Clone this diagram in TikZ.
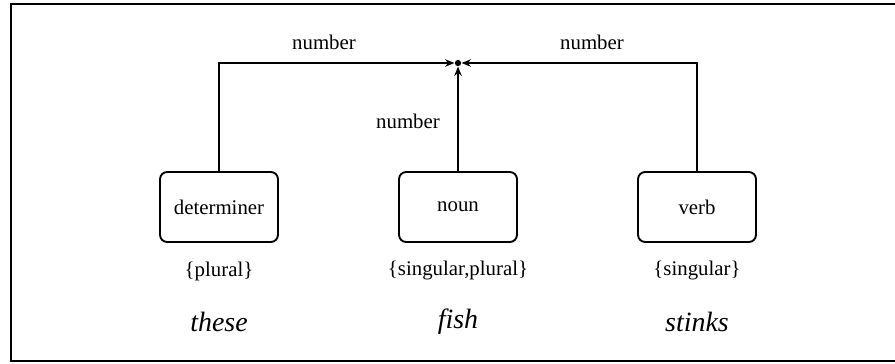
\documentclass[tikz,border=0pt]{standalone}
\usepackage{fontspec}
\setmainfont{Liberation Serif}
\usepackage{tikz}
\usetikzlibrary{positioning}
\usetikzlibrary{arrows.meta}

\begin{document}
\begin{tikzpicture}[x=0.48pt, y=-0.48pt,
    catbox/.style={draw, line width=0.9pt, rounded corners=3.4pt,
      minimum width=56.6pt, minimum height=33.6pt, font=\fontsize{10}{12}\selectfont},
    featlabel/.style={font=\fontsize{10}{12}\selectfont},
    wordlabel/.style={font=\fontsize{13.4}{16}\selectfont\itshape},
    agrdot/.style={circle, fill, inner sep=0pt, minimum size=3pt},
    arr/.style={line width=0.9pt, -{Stealth[length=4.5pt, width=3.6pt]}}]
  \useasboundingbox (0,0) rectangle (895,363);
  % frame
  \draw[line width=0.9pt] (11,4) rectangle (897,361);

  % categories, features and words
  \foreach \name/\x/\cat/\feat/\word in {det/219/determiner/{\{plural\}}/these,
      noun/458/noun/{\{singular,plural\}}/fish, verb/697/verb/{\{singular\}}/stinks} {
    \node[catbox] (\name) at (\x,207) {\cat};
    \node[featlabel] (\name-feat) at (\x,271) {\feat};
    \node[wordlabel] (\name-word) at (\x,322) {\word};
  }

  % agreement
  \node[agrdot] (agr) at (458,63) {};
  \draw[arr] (det.north) |- (agr);
  \draw[arr] (noun.north) -- (agr);
  \draw[arr] (verb.north) |- (agr);
  \node[featlabel] (num-det) at (324,42) {number};
  \node[featlabel] (num-noun) at (408,121) {number};
  \node[featlabel] (num-verb) at (592,42) {number};
\end{tikzpicture}
\end{document}
